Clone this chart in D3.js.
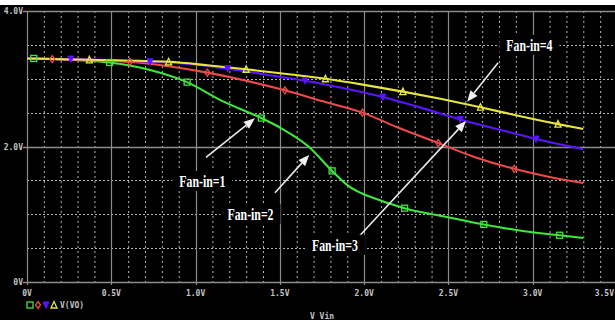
<!DOCTYPE html>
<html>
<head>
<meta charset="utf-8">
<script src="https://cdn.jsdelivr.net/npm/d3@7"></script>
<style>
  html, body { margin: 0; padding: 0; background: #000; }
  svg { display: block; }
</style>
</head>
<body>
<svg id="chart" width="615" height="320"></svg>
<script>
// Transfer curves V(VO) vs V_Vin for gates with fan-in 1..4
const vinFan1  = [0, 0.04, 0.25, 0.49, 0.73, 0.95, 1.15, 1.39, 1.50, 1.67, 1.81, 1.90, 2.09, 2.24, 2.49, 2.71, 2.95, 3.16, 3.30];
const voutFan1 = [3.30, 3.30, 3.28, 3.24, 3.13, 2.95, 2.68, 2.42, 2.28, 2.00, 1.64, 1.43, 1.21, 1.09, 0.96, 0.85, 0.75, 0.69, 0.65];
const markFan1 = [0.04, 0.49, 0.95, 1.39, 1.81, 2.24, 2.71, 3.16];

const vinFan2  = [0, 0.15, 0.61, 0.85, 1.07, 1.30, 1.53, 1.75, 1.99, 2.20, 2.44, 2.65, 2.89, 3.10, 3.30];
const voutFan2 = [3.30, 3.29, 3.25, 3.18, 3.09, 2.97, 2.83, 2.67, 2.50, 2.28, 2.05, 1.85, 1.67, 1.55, 1.46];
const markFan2 = [0.15, 0.61, 1.07, 1.53, 1.99, 2.44, 2.89];

const vinFan3  = [0, 0.26, 0.73, 0.95, 1.19, 1.42, 1.65, 1.88, 2.11, 2.34, 2.57, 2.80, 3.02, 3.30];
const voutFan3 = [3.30, 3.29, 3.25, 3.22, 3.15, 3.06, 2.97, 2.86, 2.73, 2.57, 2.40, 2.25, 2.11, 1.96];
const markFan3 = [0.26, 0.73, 1.19, 1.65, 2.11, 2.57, 3.02];

const vinFan4  = [0, 0.37, 0.84, 1.07, 1.30, 1.54, 1.77, 2.00, 2.23, 2.46, 2.69, 2.92, 3.15, 3.30];
const voutFan4 = [3.30, 3.28, 3.25, 3.20, 3.14, 3.07, 3.00, 2.91, 2.81, 2.70, 2.58, 2.45, 2.33, 2.26];
const markFan4 = [0.37, 0.84, 1.30, 1.77, 2.23, 2.69, 3.15];

const xTickLabels = ["0V", "0.5V", "1.0V", "1.5V", "2.0V", "2.5V", "3.0V", "3.5V"];
const yTickLabels = ["0V", "2.0V", "4.0V"];
const xAxisTitle = "V_Vin";
const traceName = "V(VO)";

// Callouts: label position and arrow tail/head, in volts
const calloutText = ["Fan-in=1", "Fan-in=2", "Fan-in=3", "Fan-in=4"];
const calloutAt   = [[1.04, 1.49], [1.326, 1.00], [1.827, 0.55], [2.98, 3.50]];
const arrowFrom   = [[1.062, 1.841], [1.471, 1.318], [1.928, 0.561], [2.795, 3.237]];
const arrowTo     = [[1.352, 2.416], [1.674, 1.875], [2.604, 2.376], [2.611, 2.661]];

const series = [
  { vin: vinFan1, vout: voutFan1, marks: markFan1, color: "#3ee63e", symbol: "square" },
  { vin: vinFan2, vout: voutFan2, marks: markFan2, color: "#ee4a4a", symbol: "diamond" },
  { vin: vinFan3, vout: voutFan3, marks: markFan3, color: "#5a14ff", symbol: "down" },
  { vin: vinFan4, vout: voutFan4, marks: markFan4, color: "#e6e640", symbol: "up" }
];

const svg = d3.select("#chart");
const W = 615, H = 320;

svg.append("rect").attr("width", W).attr("height", H).attr("fill", "#000");
svg.append("rect").attr("width", W).attr("height", 5).attr("fill", "#fff");

const x = d3.scaleLinear().domain([0, 3.5]).range([27, 617]);
const y = d3.scaleLinear().domain([0, 4]).range([282, 11]);

const gridSolid = "#8c8c8c";
const gridDot = "#b4b4b4";
const labelColor = "#c4c4c4";

// minor vertical grid every 0.1 V
const grid = svg.append("g");
d3.range(1, 35).filter(i => i % 5 !== 0).forEach(i => {
  grid.append("line")
    .attr("x1", x(i / 10) + 0.5).attr("x2", x(i / 10) + 0.5)
    .attr("y1", y(4)).attr("y2", y(0))
    .attr("stroke", gridDot).attr("stroke-width", 1)
    .attr("stroke-dasharray", "2,3");
});
// horizontal dotted grid every 0.5 V
[0.5, 1.0, 1.5, 2.5, 3.0, 3.5].forEach(v => {
  grid.append("line")
    .attr("x1", x(0)).attr("x2", W)
    .attr("y1", Math.round(y(v)) + 0.5).attr("y2", Math.round(y(v)) + 0.5)
    .attr("stroke", gridDot).attr("stroke-width", 1)
    .attr("stroke-dasharray", "2,2");
});
// major vertical lines every 0.5 V
d3.range(0, 8).forEach(i => {
  grid.append("line")
    .attr("x1", Math.round(x(i * 0.5)) + 0.5).attr("x2", Math.round(x(i * 0.5)) + 0.5)
    .attr("y1", y(4)).attr("y2", y(0) + 3)
    .attr("stroke", gridSolid).attr("stroke-width", 1.2);
});
// major horizontal lines at 0, 2, 4 V
[0, 2, 4].forEach(v => {
  grid.append("line")
    .attr("x1", x(0) - 4).attr("x2", W)
    .attr("y1", Math.round(y(v)) + 0.5).attr("y2", Math.round(y(v)) + 0.5)
    .attr("stroke", gridSolid).attr("stroke-width", 1.6);
});

// axis tick labels (the last one is kept inside the right edge)
const tickFont = "'DejaVu Sans Mono', monospace";
xTickLabels.forEach((t, i) => {
  const last = i === xTickLabels.length - 1;
  svg.append("text")
    .attr("x", last ? W - 1 : x(i * 0.5)).attr("y", 296)
    .attr("text-anchor", last ? "end" : "middle")
    .attr("font-family", tickFont).attr("font-size", 8).attr("font-weight", "bold")
    .attr("fill", labelColor).text(t);
});
yTickLabels.forEach((t, i) => {
  svg.append("text")
    .attr("x", 23).attr("y", y(i * 2) + 3)
    .attr("text-anchor", "end")
    .attr("font-family", tickFont).attr("font-size", 8).attr("font-weight", "bold")
    .attr("fill", labelColor).text(t);
});
svg.append("text")
  .attr("x", 322).attr("y", 319)
  .attr("text-anchor", "middle")
  .attr("font-family", tickFont).attr("font-size", 8).attr("font-weight", "bold")
  .attr("fill", labelColor).text(xAxisTitle);

// marker shapes
function drawMarker(g, cx, cy, symbol, color) {
  if (symbol === "square") {
    g.append("rect").attr("x", cx - 3).attr("y", cy - 3).attr("width", 6).attr("height", 6)
      .attr("fill", "none").attr("stroke", color).attr("stroke-width", 1.3);
  } else if (symbol === "diamond") {
    g.append("path").attr("d", `M${cx},${cy - 3.5}L${cx + 2.5},${cy}L${cx},${cy + 3.5}L${cx - 2.5},${cy}Z`)
      .attr("fill", "none").attr("stroke", color).attr("stroke-width", 1.3);
  } else if (symbol === "down") {
    g.append("path").attr("d", `M${cx - 3},${cy - 3}L${cx + 3},${cy - 3}L${cx},${cy + 3.5}Z`)
      .attr("fill", color).attr("stroke", color).attr("stroke-width", 1);
  } else {
    g.append("path").attr("d", `M${cx - 3},${cy + 3}L${cx + 3},${cy + 3}L${cx},${cy - 3.5}Z`)
      .attr("fill", "none").attr("stroke", color).attr("stroke-width", 1.3);
  }
}

// traces
const line = d3.line().x(d => x(d[0])).y(d => y(d[1])).curve(d3.curveMonotoneX);
const traces = svg.append("g");
series.forEach(s => {
  const pts = s.vin.map((v, i) => [v, s.vout[i]]);
  traces.append("path").datum(pts)
    .attr("d", line)
    .attr("fill", "none").attr("stroke", s.color).attr("stroke-width", 2.1);
});
series.forEach(s => {
  s.marks.forEach(v => {
    const i = s.vin.indexOf(v);
    drawMarker(traces, x(v), y(s.vout[i]), s.symbol, s.color);
  });
});

// legend row under the axis
const legend = svg.append("g");
series.forEach((s, i) => drawMarker(legend, 30 + i * 8, 305, s.symbol, s.color));
legend.append("text")
  .attr("x", 60).attr("y", 308)
  .attr("font-family", tickFont).attr("font-size", 8).attr("font-weight", "bold")
  .attr("fill", labelColor).text(traceName);

// callout arrows
const ann = svg.append("g");
arrowFrom.forEach((f, i) => {
  const x1 = x(f[0]), y1 = y(f[1]);
  const x2 = x(arrowTo[i][0]), y2 = y(arrowTo[i][1]);
  const ang = Math.atan2(y2 - y1, x2 - x1);
  const L = 11, Wd = 4.5;
  const bx = x2 - L * Math.cos(ang), by = y2 - L * Math.sin(ang);
  ann.append("line").attr("x1", x1).attr("y1", y1).attr("x2", bx).attr("y2", by)
    .attr("stroke", "#e8e8e8").attr("stroke-width", 1.6);
  ann.append("path")
    .attr("d", `M${x2},${y2}L${bx + Wd * Math.sin(ang)},${by - Wd * Math.cos(ang)}L${bx - Wd * Math.sin(ang)},${by + Wd * Math.cos(ang)}Z`)
    .attr("fill", "#f0f0f0");
});

// callout labels on black boxes
calloutText.forEach((t, i) => {
  const cx = x(calloutAt[i][0]), cy = y(calloutAt[i][1]);
  ann.append("rect").attr("x", cx - 30).attr("y", cy - 10).attr("width", 60).attr("height", 20)
    .attr("fill", "#000");
  ann.append("text")
    .attr("x", cx - 23).attr("y", cy + 6)
    .attr("font-family", "'Liberation Serif', 'Times New Roman', serif")
    .attr("font-size", 17).attr("font-weight", "bold")
    .attr("textLength", 46).attr("lengthAdjust", "spacingAndGlyphs")
    .attr("fill", "#fff").text(t);
});
</script>
</body>
</html>
